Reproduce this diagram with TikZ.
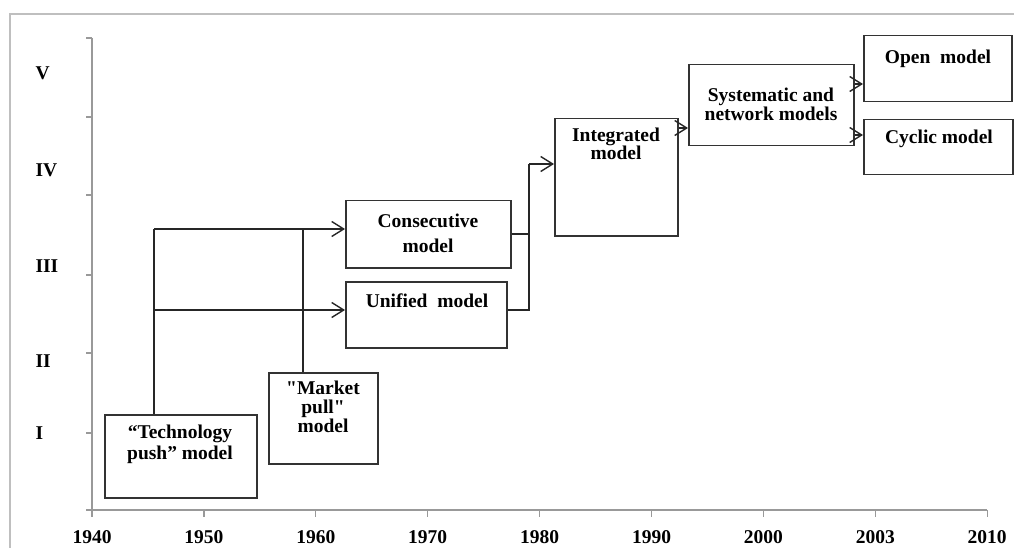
\documentclass[tikz,border=0pt]{standalone}
\usepackage{fontspec}
\setmainfont{Liberation Serif}[Ligatures=TeXOff]
\usetikzlibrary{arrows.meta}

\begin{document}
\begin{tikzpicture}[
    x=1pt, y=-1pt,  % work in image pixels, y pointing down
    font=\fontsize{19.5}{21}\selectfont\bfseries,
    >={Straight Barb[length=12pt,width=15pt]},
    model/.style = {draw=black!80, line width=1.5pt, inner sep=0pt, anchor=north west},
    txt/.style = {align=center, inner sep=0pt},
    link/.style = {draw=black!85, line width=1.4pt},
    axis/.style = {draw=black!40, line width=1.3pt}
  ]
    \useasboundingbox (0,0) rectangle (1014,548);
    \draw[black!25, line width=1.6pt] (10,548) -- (10,14) -- (1014,14);   % outer frame

    % axes
    \draw[axis] (92,38) -- (92,510) -- (987,510);
    \foreach \y in {38,117,195,275,353,433,510}
      \draw[axis] (86,\y) -- (92,\y);
    \foreach \yr [count=\i from 0] in {1940,1950,1960,1970,1980,1990,2000,2003,2010} {
      \draw[axis] (92+111.9*\i,510) -- (92+111.9*\i,517);
      \node (yr\i) at (92+111.9*\i,537) {\yr};
    }
    \foreach \r/\y in {V/73,IV/170,III/266,II/361,I/433}
      \node[anchor=west] (lv\r) at (32,\y) {\r};

    % model boxes
    \node[model, minimum width=152pt, minimum height=83pt] (tech) at (104,414) {};
    \node[model, minimum width=109pt, minimum height=91pt] (market) at (268,372) {};
    \node[model, minimum width=165pt, minimum height=67pt] (consec) at (345,200) {};
    \node[model, minimum width=161pt, minimum height=66pt] (unified) at (345,281) {};
    \node[model, minimum width=123pt, minimum height=117pt] (integ) at (554,118) {};
    \node[model, minimum width=165pt, minimum height=81pt] (system) at (688,64) {};
    \node[model, minimum width=148pt, minimum height=66pt] (open) at (863,35) {};
    \node[model, minimum width=149pt, minimum height=55pt] (cyclic) at (863,119) {};

    % box texts, sitting near the top edge
    \node[txt] (tech-t) at (180,444) {“Technology\\push” model};
    \node[txt] (market-t) at (323,407) {"Market\\[-2pt]pull"\\[-2pt]model};
    \node[txt] (consec-t) at (428,233) {Consecutive\\[4pt]model};
    \node[txt] (unified-t) at (427,301) {Unified\ \ model};
    \node[txt] (integ-t) at (616,144) {Integrated\\[-3pt]model};
    \node[txt] (system-t) at (771,104) {Systematic and\\[-2pt]network models};
    \node[txt] (open-t) at (938,59) {Open\ \ model};
    \node[txt] (cyclic-t) at (939,139) {Cyclic model};

    % junction points
    \coordinate (ja) at (154,229);
    \coordinate (jb) at (154,310);
    \coordinate (jm) at (303,229);
    \coordinate (jc) at (529,234);
    \coordinate (ju) at (529,310);
    \coordinate (jr) at (529,164);

    \draw[link] (tech.north -| ja) -- (ja);
    \draw[link] (market.north -| jm) -- (jm);
    \draw[link,->] (ja) -- (consec.west |- ja);
    \draw[link,->] (jb) -- (unified.west |- jb);
    \draw[link] (consec.east |- jc) -- (jc);
    \draw[link] (unified.east |- ju) -- (ju) -- (jr);
    \draw[link,->] (jr) -- (integ.west |- jr);
    \draw[link,->] (integ.east |- 0,128) -- (system.west |- 0,128);
    \draw[link,->] (system.east |- 0,84) -- (open.west |- 0,84);
    \draw[link,->] (system.east |- 0,135) -- (cyclic.west |- 0,135);
  \end{tikzpicture}
\end{document}
